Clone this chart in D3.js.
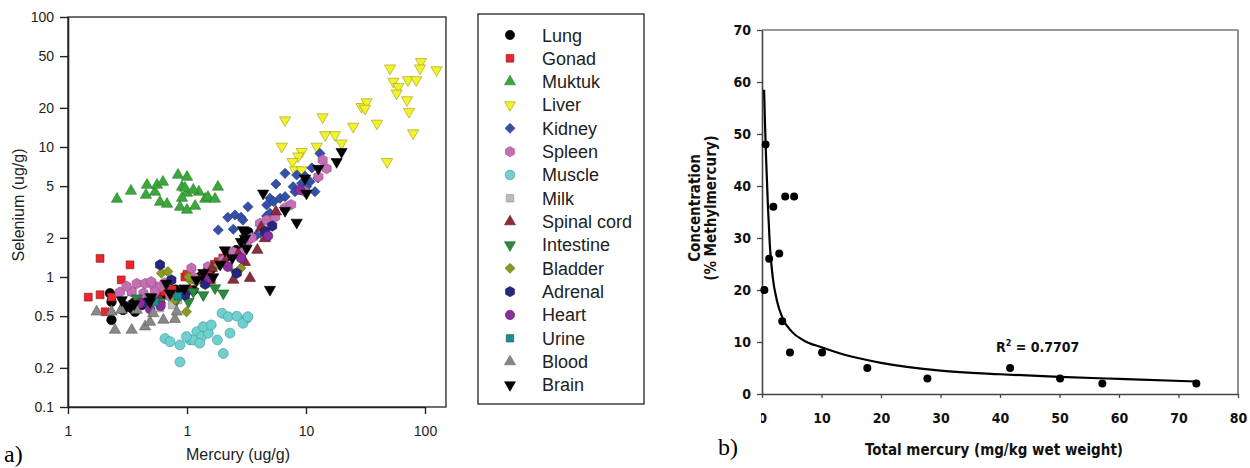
<!DOCTYPE html>
<html>
<head>
<meta charset="utf-8">
<script src="https://cdn.jsdelivr.net/npm/d3@7"></script>
<style>
  body { margin: 0; background: #fff; }
  svg { display: block; }
  .pa text { font-family: "Liberation Sans", Arial, sans-serif; fill: #222; }
  .pb text { font-family: "Liberation Sans Narrow", "Arial Narrow", "DejaVu Sans Condensed", sans-serif; font-weight: bold; fill: #111; }
  .lbl { font-family: "Liberation Serif", "Times New Roman", serif; font-size: 24px; fill: #000; }
</style>
</head>
<body>
<svg id="chart" width="1250" height="468"></svg>
<script>
// ---------- Panel a: selenium vs mercury by tissue (ug/g) ----------
const tissues = ["Lung", "Gonad", "Muktuk", "Liver", "Kidney", "Spleen", "Muscle", "Milk",
  "Spinal cord", "Intestine", "Bladder", "Adrenal", "Heart", "Urine", "Blood", "Brain"];

// [mercury, selenium] pairs per tissue
const lung = [[0.225,0.75],[0.232,0.645],[0.232,0.467],[0.29,0.557],[0.343,0.575],[0.354,0.63],
  [0.366,0.54],[0.416,0.609],[0.9,0.75],[0.96,0.75],[1.13,0.79],[1.28,1.0],[1.97,1.3],[2.59,1.61],[3.27,2.22],
  [0.3,0.6],[0.45,0.65],[0.62,0.72],[0.8,0.8],[1.6,1.15],[2.2,1.45],[3.0,1.9]];
const gonad = [[0.186,1.39],[0.332,1.24],[0.28,0.95],[0.148,0.70],[0.186,0.73],[0.232,0.70],[0.205,0.54],
  [0.343,0.77],[0.444,0.70],[0.489,0.67],[0.633,0.77],[0.96,1.0],[1.2,0.95],[1.51,1.1],[1.83,1.31],[1.6,0.95],
  [1.0,1.05],[0.75,0.8],[1.7,1.25],[2.0,1.4],[0.55,0.72],[0.4,0.62]];
const muktuk = [[0.258,3.98],[0.338,4.59],[0.461,5.1],[0.452,4.27],[0.538,4.51],[0.56,5.1],[0.628,5.38],
  [0.593,3.77],[0.679,3.64],[0.84,6.09],[1.0,5.87],[0.908,4.93],[1.0,4.43],[0.908,4.05],[0.873,3.45],
  [1.0,3.28],[1.17,3.51],[1.26,4.51],[1.42,3.98],[1.5,4.12],[1.72,3.98],[1.82,4.93],[0.962,4.84],[1.13,4.67]];
const liver = [[6.67,16.1],[13.8,17.0],[6.26,10.1],[9.2,9.2],[8.6,8.5],[7.7,7.7],[8.09,6.65],[9.2,6.65],
  [12.3,10.1],[14.5,12.4],[17.5,12.4],[19.9,10.7],[24.9,14.4],[29.3,20.4],[32.3,22.2],[31.3,19.8],
  [39.5,15.2],[50.8,40.4],[54.2,31.9],[59.7,29.1],[57.8,25.9],[71.9,32.8],[84.4,32.8],[92.6,45.3],
  [90.8,40.4],[125,39.1],[70.6,23.0],[73.4,18.7],[79.5,12.8],[48,7.7]];
const kidney = [[6.67,6.27],[5.59,5.19],[4.98,4.03],[4.67,3.58],[5.35,3.8],[6.05,4.03],[6.67,4.15],
  [7.8,4.95],[8.09,4.53],[9.2,5.26],[10.8,5.41],[11.9,4.53],[10.1,4.95],[3.25,3.47],[2.53,3.0],[2.2,2.88],
  [2.84,2.88],[2.95,2.74],[1.83,2.30],[2.45,2.33],[3.85,2.10],[4.1,2.17],[4.67,2.95],[4.98,3.09],
  [13.1,8.93],[8.35,6.09],[9.81,5.98],[11.2,6.9],[12.6,5.78]];
const spleen = [[0.378,0.89],[0.444,0.89],[0.52,0.868],[0.593,0.84],[0.343,0.77],[0.43,0.75],[0.538,0.77],
  [1.09,1.17],[1.13,1.0],[0.72,0.71],[2.45,1.56],[2.84,1.52],[4.1,2.58],[4.67,2.74],[12.7,5.91],[14.9,6.83],
  [13.8,7.94],[6.67,3.4],[3.17,1.87],[9.81,4.53],[4.37,2.30],[0.273,0.766],
  [0.31,0.85],[0.5,0.92],[0.65,0.9],[1.5,1.2],[2.0,1.35],[3.5,2.0],[5.5,2.9],[7.5,3.6]];
const muscle = [[0.653,0.336],[0.873,0.30],[0.72,0.318],[1.06,0.328],[1.21,0.38],[1.13,0.328],[1.33,0.348],
  [1.51,0.37],[1.37,0.415],[1.6,0.428],[1.97,0.526],[2.22,0.495],[2.62,0.5],[3.17,0.48],[2.95,0.44],
  [3.25,0.495],[2.3,0.37],[2.02,0.258],[0.873,0.222],[1.28,0.31],[0.99,0.348],[1.8,0.328]];
const milk = [[0.593,0.577],[0.75,0.609],[0.84,0.666]];
const spinalCord = [[5.59,3.18],[4.52,1.98],[2.45,0.948],[2.08,1.3],[1.62,1.17],[1.06,0.794],[0.593,0.666],
  [3.07,1.3],[3.9,1.61],[3.38,0.98],[1.4,1.05],[2.7,1.5],[4.2,2.4]];
const intestine = [[0.378,0.687],[0.489,0.705],[1.13,0.77],[1.37,0.727],[2.02,0.75],[1.03,0.645],
  [0.593,0.645],[0.82,0.666],[1.72,0.823],[2.53,1.09]];
const bladder = [[0.61,1.07],[0.69,1.1],[1.06,0.948],[0.99,0.54],[1.03,1.0],[1.2,0.92],[2.84,1.17],
  [1.83,1.24],[0.793,0.666]];
const adrenal = [[0.593,1.24],[0.74,0.948],[0.962,0.727],[2.62,1.07],[4.52,2.23],[5.2,2.47],[1.42,0.88],[0.444,0.63]];
const heart = [[0.489,0.567],[0.403,0.63],[1.56,0.98],[2.84,1.4],[4.8,2.07],[8.91,4.67],[0.6,0.6],[2.2,1.2]];
const urine = [[0.538,0.643],[0.84,0.71]];
const blood = [[0.174,0.54],[0.232,0.54],[0.248,0.391],[0.343,0.391],[0.444,0.415],[0.633,0.467],
  [0.793,0.473],[0.28,0.557],[0.378,0.557],[0.52,0.525],[0.82,0.54],[0.489,0.45]];
const brain = [[19.9,9.2],[18.1,7.7],[12.7,6.83],[9.81,5.74],[10.1,4.4],[4.37,4.4],[6.67,3.24],[8.35,2.63],
  [2.95,2.30],[3.07,1.98],[2.08,1.61],[4.98,0.80],[2.84,1.87],[3.17,1.66],[1.37,1.08],[1.66,1.0],
  [0.67,0.89],[0.489,0.645],[0.72,0.75],[0.283,0.666],
  [0.36,0.62],[0.5,0.7],[1.2,0.95],[1.9,1.25],[2.4,1.4],[0.95,0.82]];

const seleniumTicks = [0.1, 0.2, 0.5, 1, 2, 5, 10, 20, 50, 100];
const mercuryTicks = [0.1, 1, 10, 100];
const mercuryTickLabels = ["1", "1", "10", "100"];

// ---------- Panel b: % methylmercury vs total mercury ----------
const totalHg = [0.6, 0.4, 1.2, 1.9, 2.9, 3.4, 3.9, 5.4, 4.7, 10.1, 17.7, 27.8, 41.7, 50.1, 57.2, 73.0];
const meHgPct = [48, 20, 26, 36, 27, 14, 38, 38, 8, 8, 5, 3, 5, 3, 2, 2];
// fitted trend line, sampled along the plotted curve
const fitX = [0.35, 0.5, 0.7, 1.0, 1.3, 1.8, 2.5, 3.5, 5, 7, 10, 15, 20, 30, 40, 50, 60, 73];
const fitY = [58.5, 52, 45, 36, 29, 22.5, 18, 14.5, 12, 10.3, 9, 7.2, 6.0, 4.5, 3.8, 3.3, 2.9, 2.4];
const rSquared = "0.7707";
const pctTicks = [0, 10, 20, 30, 40, 50, 60, 70];
const hgTicks = [0, 10, 20, 30, 40, 50, 60, 70, 80];

// ---------- drawing ----------
const svg = d3.select("#chart");

const hexagon = {
  draw(ctx, size) {
    const r = Math.sqrt(2 * size / (3 * Math.sqrt(3)));
    for (let i = 0; i < 6; i++) {
      const a = Math.PI / 3 * i - Math.PI / 2;
      const x = r * Math.cos(a), y = r * Math.sin(a);
      if (i === 0) ctx.moveTo(x, y); else ctx.lineTo(x, y);
    }
    ctx.closePath();
  }
};

const styles = {
  "Lung":        { shape: d3.symbolCircle,   size: 72, rot: 0,   fill: "#000000", stroke: "#000000" },
  "Gonad":       { shape: d3.symbolSquare,   size: 62, rot: 0,   fill: "#e8262b", stroke: "#8c1a1a" },
  "Muktuk":      { shape: d3.symbolTriangle, size: 55, rot: 0,   fill: "#3aa83a", stroke: "#2a7a2a" },
  "Liver":       { shape: d3.symbolTriangle, size: 55, rot: 180, fill: "#f2f22a", stroke: "#9a9a18" },
  "Kidney":      { shape: d3.symbolSquare,   size: 52, rot: 45,  fill: "#3550a8", stroke: "#243a80" },
  "Spleen":      { shape: hexagon,           size: 72, rot: 0,   fill: "#c46fb4", stroke: "#9a508a" },
  "Muscle":      { shape: d3.symbolCircle,   size: 78, rot: 0,   fill: "#72cfcf", stroke: "#3a9a9a" },
  "Milk":        { shape: d3.symbolSquare,   size: 58, rot: 0,   fill: "#bcbcbc", stroke: "#8a8a8a" },
  "Spinal cord": { shape: d3.symbolTriangle, size: 55, rot: 0,   fill: "#8b2c3c", stroke: "#5a1a24" },
  "Intestine":   { shape: d3.symbolTriangle, size: 55, rot: 180, fill: "#2a8a3e", stroke: "#1a5a28" },
  "Bladder":     { shape: d3.symbolSquare,   size: 52, rot: 45,  fill: "#8c9a22", stroke: "#5e6a14" },
  "Adrenal":     { shape: hexagon,           size: 72, rot: 0,   fill: "#262680", stroke: "#16164f" },
  "Heart":       { shape: d3.symbolCircle,   size: 72, rot: 0,   fill: "#8b2d9c", stroke: "#5a1a66" },
  "Urine":       { shape: d3.symbolSquare,   size: 58, rot: 0,   fill: "#1a8f8f", stroke: "#0e5a5a" },
  "Blood":       { shape: d3.symbolTriangle, size: 55, rot: 0,   fill: "#888888", stroke: "#5e5e5e" },
  "Brain":       { shape: d3.symbolTriangle, size: 55, rot: 180, fill: "#000000", stroke: "#000000" }
};
const tissueData = [lung, gonad, muktuk, liver, kidney, spleen, muscle, milk,
  spinalCord, intestine, bladder, adrenal, heart, urine, blood, brain];

// panel a scales
const xA = d3.scaleLog().domain([0.1, 100]).range([68, 425]);
const yA = d3.scaleLog().domain([0.1, 100]).range([407, 17]);
const xRightA = xA(150);

const pa = svg.append("g").attr("class", "pa");

// frame
pa.append("rect")
  .attr("x", xA(0.1)).attr("y", yA(100))
  .attr("width", xRightA - xA(0.1)).attr("height", yA(0.1) - yA(100))
  .attr("fill", "none").attr("stroke", "#333").attr("stroke-width", 1.4);

const yAxisA = pa.append("g").attr("transform", `translate(${xA(0.1)},0)`)
  .call(d3.axisLeft(yA).tickValues(seleniumTicks).tickFormat(d => String(d))
    .tickSize(8).tickSizeOuter(0).tickPadding(6));
yAxisA.select(".domain").attr("stroke", "#222").attr("stroke-width", 1.6);
yAxisA.selectAll(".tick line").attr("stroke", "#222").attr("stroke-width", 1.4);
yAxisA.selectAll(".tick text").attr("font-size", 14).attr("fill", "#222")
  .attr("font-family", "'Liberation Sans', Arial, sans-serif");

const xAxisA = pa.append("g").attr("transform", `translate(0,${yA(0.1)})`)
  .call(d3.axisBottom(xA).tickValues(mercuryTicks).tickFormat((d, i) => mercuryTickLabels[i])
    .tickSize(7).tickSizeOuter(0).tickPadding(12));
xAxisA.select(".domain").attr("stroke", "#222").attr("stroke-width", 1.6);
xAxisA.selectAll(".tick line").attr("stroke", "#222").attr("stroke-width", 1.4);
xAxisA.selectAll(".tick text").attr("font-size", 14).attr("fill", "#222")
  .attr("font-family", "'Liberation Sans', Arial, sans-serif");

pa.append("text").attr("transform", "translate(24,205) rotate(-90)")
  .attr("text-anchor", "middle").attr("font-size", 16).text("Selenium (ug/g)");
pa.append("text").attr("x", 238).attr("y", 460)
  .attr("text-anchor", "middle").attr("font-size", 16).text("Mercury (ug/g)");

// markers
tissues.forEach((name, k) => {
  const st = styles[name];
  const sym = d3.symbol().type(st.shape).size(st.size)();
  pa.append("g").selectAll("path").data(tissueData[k]).join("path")
    .attr("d", sym)
    .attr("transform", d => `translate(${xA(d[0])},${yA(d[1])}) rotate(${st.rot})`)
    .attr("fill", st.fill).attr("stroke", st.stroke).attr("stroke-width", 0.6);
});

// legend
const legend = pa.append("g");
legend.append("rect").attr("x", 478).attr("y", 14).attr("width", 166).attr("height", 390)
  .attr("fill", "#fff").attr("stroke", "#333").attr("stroke-width", 1.4);
tissues.forEach((name, k) => {
  const st = styles[name];
  const yy = 35 + k * 23.33;
  legend.append("path").attr("d", d3.symbol().type(st.shape).size(st.size * 0.95)())
    .attr("transform", `translate(510,${yy}) rotate(${st.rot})`)
    .attr("fill", st.fill).attr("stroke", st.stroke).attr("stroke-width", 0.6);
  legend.append("text").attr("x", 542).attr("y", yy + 6.5).attr("font-size", 18).text(name);
});

svg.append("text").attr("class", "lbl").attr("x", 4).attr("y", 462).text("a)");

// panel b scales
const xB = d3.scaleLinear().domain([0, 80]).range([762, 1238]);
const yB = d3.scaleLinear().domain([0, 70]).range([394, 30]);

const pb = svg.append("g").attr("class", "pb");

// top and right frame lines
pb.append("line").attr("x1", xB(0)).attr("x2", xB(80)).attr("y1", yB(70)).attr("y2", yB(70))
  .attr("stroke", "#777").attr("stroke-width", 1.6);
pb.append("line").attr("x1", xB(80)).attr("x2", xB(80)).attr("y1", yB(70)).attr("y2", yB(0))
  .attr("stroke", "#777").attr("stroke-width", 1.6);

const yAxisB = pb.append("g").attr("transform", `translate(${xB(0)},0)`)
  .call(d3.axisLeft(yB).tickValues(pctTicks).tickFormat(d3.format("d"))
    .tickSize(5).tickSizeOuter(0).tickPadding(6));
yAxisB.select(".domain").attr("stroke", "#444").attr("stroke-width", 1.6);
yAxisB.selectAll(".tick line").attr("stroke", "#444").attr("stroke-width", 1.3);
yAxisB.selectAll(".tick text").attr("font-size", 14).attr("font-weight", "bold").attr("fill", "#111")
  .attr("font-family", "'Liberation Sans Narrow', 'Arial Narrow', 'DejaVu Sans Condensed', sans-serif");

// the x tick labels are cut off at the left edge of the plot area
svg.append("clipPath").attr("id", "bxclip").append("rect")
  .attr("x", xB(0) - 1).attr("y", -20).attr("width", 600).attr("height", 80);
const xAxisB = pb.append("g").attr("transform", `translate(0,${yB(0)})`)
  .attr("clip-path", "url(#bxclip)")
  .call(d3.axisBottom(xB).tickValues(hgTicks).tickFormat(d3.format("d"))
    .tickSize(4).tickSizeOuter(0).tickPadding(15));
xAxisB.select(".domain").attr("stroke", "#444").attr("stroke-width", 1.6);
xAxisB.selectAll(".tick line").attr("stroke", "#444").attr("stroke-width", 1.3);
xAxisB.selectAll(".tick text").attr("font-size", 14).attr("font-weight", "bold").attr("fill", "#111")
  .attr("font-family", "'Liberation Sans Narrow', 'Arial Narrow', 'DejaVu Sans Condensed', sans-serif");

// trend line
const fitPts = fitX.map((x, i) => [x, fitY[i]]);
pb.append("path").datum(fitPts)
  .attr("d", d3.line().x(d => xB(d[0])).y(d => yB(d[1])).curve(d3.curveMonotoneX))
  .attr("fill", "none").attr("stroke", "#000").attr("stroke-width", 2.2);

// observations
pb.append("g").selectAll("circle").data(totalHg.map((x, i) => [x, meHgPct[i]])).join("circle")
  .attr("cx", d => xB(d[0])).attr("cy", d => yB(d[1])).attr("r", 4).attr("fill", "#000");

// R-squared annotation
const r2 = pb.append("text").attr("x", 996).attr("y", 352).attr("font-size", 14);
r2.append("tspan").text("R");
r2.append("tspan").attr("font-size", 9).attr("dy", -6).text("2");
r2.append("tspan").attr("dy", 6).text(" = " + rSquared);

// axis titles
pb.append("text").attr("transform", "translate(700,208) rotate(-90)")
  .attr("text-anchor", "middle").attr("font-size", 15).text("Concentration");
pb.append("text").attr("transform", "translate(716,208) rotate(-90)")
  .attr("text-anchor", "middle").attr("font-size", 15).text("(% Methylmercury)");
pb.append("text").attr("x", 994).attr("y", 455)
  .attr("text-anchor", "middle").attr("font-size", 15).text("Total mercury (mg/kg wet weight)");

svg.append("text").attr("class", "lbl").attr("x", 718).attr("y", 455).text("b)");
</script>
</body>
</html>
